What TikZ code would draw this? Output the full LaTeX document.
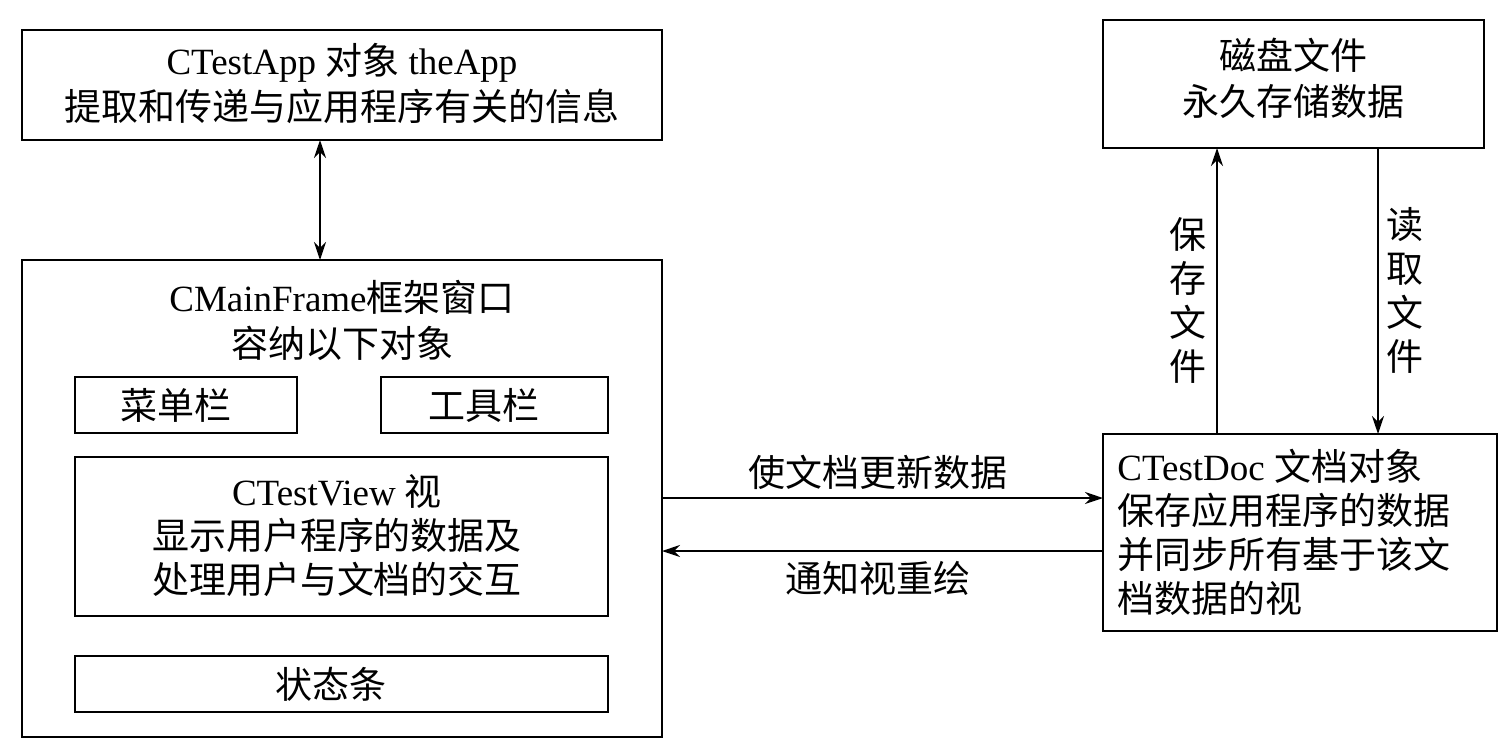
\documentclass[tikz,border=0pt]{standalone}
\usepackage{fontspec}
\setmainfont{Liberation Serif}
\newfontfamily\cjk{Noto Sans CJK SC}
\newcommand{\zh}[1]{{\cjk #1}}
\usetikzlibrary{arrows.meta}
\begin{document}
\begin{tikzpicture}[x=0.5pt,y=-0.5pt,
  box/.style={draw,line width=0.8pt},
  txt/.style={font=\fontsize{18.5}{22}\selectfont,inner sep=0pt},
  arr/.style={line width=0.8pt,-{Stealth[length=9pt,width=6pt]}},
  every node/.style={txt}]
\useasboundingbox (0,0) rectangle (1512,751);
\draw[box] (22,30) rectangle (662,140) coordinate (appbr);
\node (app) at (342,83) [align=center] {CTestApp \zh{对象} theApp\\[1pt]\zh{提取和传递与应用程序有关的信息}};
\draw[box] (1103,20) rectangle (1484,148);
\node (disk) at (1293,78) [align=center] {\zh{磁盘文件}\\[1pt]\zh{永久存储数据}};
\draw[box] (22,260) rectangle (662,737);
\node (mf) at (342,320) [align=center] {CMainFrame\zh{框架窗口}\\[1pt]\zh{容纳以下对象}};
\draw[box] (75,377) rectangle (297,433); \node (menu) at (176,405) {\zh{菜单栏}};
\draw[box] (381,377) rectangle (608,433); \node (tool) at (484,405) {\zh{工具栏}};
\draw[box] (75,457) rectangle (608,616);
\node (view) at (337,536) [align=center] {CTestView \zh{视}\\[0pt]\zh{显示用户程序的数据及}\\[0pt]\zh{处理用户与文档的交互}};
\draw[box] (75,656) rectangle (608,712); \node (status) at (331,684) {\zh{状态条}};
\draw[box] (1103,434) rectangle (1497,631);
\node (doc) at (1117,532) [anchor=west,align=left] {CTestDoc \zh{文档对象}\\[0pt]\zh{保存应用程序的数据}\\[0pt]\zh{并同步所有基于该文}\\[0pt]\zh{档数据的视}};
\coordinate (a1) at (320,140); \coordinate (a2) at (320,260);
\draw[line width=0.8pt,{Stealth[length=9pt,width=6pt]}-{Stealth[length=9pt,width=6pt]}] (a1) -- (a2);
\coordinate (s1) at (1217,434); \coordinate (s2) at (1217,148);
\draw[arr] (s1) -- (s2);
\node at (1188,300) [align=center] {\zh{保}\\[0pt]\zh{存}\\[0pt]\zh{文}\\[0pt]\zh{件}};
\coordinate (r1) at (1378,148); \coordinate (r2) at (1378,434);
\draw[arr] (r1) -- (r2);
\node at (1405,290) [align=center] {\zh{读}\\[0pt]\zh{取}\\[0pt]\zh{文}\\[0pt]\zh{件}};
\coordinate (u1) at (662,498); \coordinate (u2) at (1103,498);
\draw[arr] (u1) -- (u2);
\node at (878,472) {\zh{使文档更新数据}};
\coordinate (n1) at (1103,551); \coordinate (n2) at (662,551);
\draw[arr] (n1) -- (n2);
\node at (878,578) {\zh{通知视重绘}};
\end{tikzpicture}
\end{document}
